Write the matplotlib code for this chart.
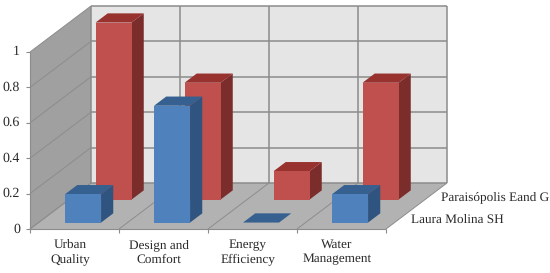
import matplotlib
matplotlib.use("Agg")
import matplotlib.pyplot as plt
from matplotlib.patches import Polygon

# Donnees
categories = ["Urban\nQuality", "Design and\nComfort", "Energy\nEfficiency", "Water\nManagement"]
series_names = ["Laura Molina SH", "Paraisópolis Eand G"]
laura_molina = [0.16, 0.66, 0.0, 0.16]
paraisopolis = [1.0, 0.66, 0.16, 0.66]
y_ticks = [0, 0.2, 0.4, 0.6, 0.8, 1]
y_labels = ["0", "0.2", "0.4", "0.6", "0.8", "1"]

plt.rcParams["font.family"] = ["Liberation Serif", "DejaVu Serif"]
plt.rcParams["text.hinting"] = "none"

# Pixels du repere de la face avant
X0, Y0, CAT_W, UNIT_H = 30, 229, 89.0, 177.0
# Decalage de la profondeur totale, en pixels
DEPTH_X, DEPTH_Y = 61.0, 46.0

W, H = 550, 273
fig = plt.figure(figsize=(W / 100, H / 100), dpi=100, facecolor="white")
ax = fig.add_axes([0, 0, 1, 1])
ax.set_xlim(-X0 / CAT_W, (W - X0) / CAT_W)
ax.set_ylim(-(H - Y0) / UNIT_H, Y0 / UNIT_H)
ax.axis("off")

n_cat = len(categories)
grid_col = "#8c8c8c"


# Projection oblique : categorie, valeur, profondeur (0 a 1)
def proj(x, v, d):
    return (x + d * DEPTH_X / CAT_W, v + d * DEPTH_Y / UNIT_H)


def face(pts, color, z, edge="none", lw=0):
    ax.add_patch(Polygon([proj(*p) for p in pts], closed=True, facecolor=color,
                         edgecolor=edge, linewidth=lw, zorder=z))


def line(p1, p2, z=2, lw=1.1, color=grid_col):
    a, b = proj(*p1), proj(*p2)
    ax.plot([a[0], b[0]], [a[1], b[1]], color=color, lw=lw, zorder=z,
            solid_capstyle="butt")


# Murs et sol
top = y_ticks[-1]
face([(0, 0, 1), (n_cat, 0, 1), (n_cat, top, 1), (0, top, 1)], "#e5e5e5", 1)
face([(0, 0, 0), (0, 0, 1), (0, top, 1), (0, top, 0)], "#a0a0a0", 1)
face([(0, 0, 0), (n_cat, 0, 0), (n_cat, 0, 1), (0, 0, 1)], "#b2b2b2", 1)

# Grille
for t in y_ticks:
    line((0, t, 1), (n_cat, t, 1))
    line((0, t, 0), (0, t, 1), lw=0.7)
    line((-0.045, t, 0), (0, t, 0), lw=0.8)
for i in range(n_cat + 1):
    line((i, 0, 1), (i, top, 1))
    line((i, 0, 0), (i, 0, 1), lw=0.7)
    line((i, -0.025, 0), (i, 0, 0), lw=0.8)
line((0, 0, 0), (n_cat, 0, 0), lw=0.8)
line((0, 0, 0), (0, top, 0), lw=0.8)


# Barres
def bar3d(i, value, d_center, cols, z):
    bw, bd = 0.405, 0.2
    x1, x2 = i + 0.5 - bw / 2, i + 0.5 + bw / 2
    d1, d2 = d_center - bd / 2, d_center + bd / 2
    face([(x2, 0, d1), (x2, 0, d2), (x2, value, d2), (x2, value, d1)], cols[2], z)
    face([(x1, value, d1), (x2, value, d1), (x2, value, d2), (x1, value, d2)], cols[1], z)
    face([(x1, 0, d1), (x2, 0, d1), (x2, value, d1), (x1, value, d1)], cols[0], z + 0.1)


red = ("#c0504d", "#97322f", "#7b2d2b")
blue = ("#4f81bd", "#35608f", "#2f5480")
for i, v in enumerate(paraisopolis):
    bar3d(i, v, 0.74, red, 3)
for i, v in enumerate(laura_molina):
    bar3d(i, v, 0.24, blue, 4)

# Textes
txt_col = "#2a2a2a"
for t, lab in zip(y_ticks, y_labels):
    ax.text(-10 / CAT_W, t, lab, ha="right", va="center", fontsize=10, color=txt_col)
for i, lab in enumerate(categories):
    ax.text(i + 0.45, -10 / UNIT_H, lab, ha="center", va="top", fontsize=9.5,
            color=txt_col, linespacing=1.3)
for name, d in zip(series_names, [0.24, 0.74]):
    px, py = proj(n_cat, 0, d)
    ax.text(px + 10 / CAT_W, py - 2 / UNIT_H, name, ha="left", va="center",
            fontsize=9.5, color=txt_col)

fig.savefig("out.png", dpi=100)
